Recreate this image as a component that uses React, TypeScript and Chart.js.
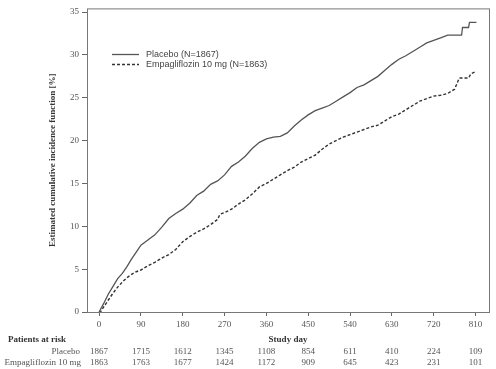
import React, { useEffect, useRef } from "react";
import { Chart, registerables } from "chart.js";

Chart.register(...registerables);

const placeboLabel = "Placebo (N=1867)";
const empaLabel = "Empagliflozin 10 mg (N=1863)";
const yTitle = "Estimated cumulative incidence function [%]";

const placeboDays = [0, 10, 20, 30, 40, 50, 60, 70, 80, 90, 105, 120, 135, 150, 165, 180, 195, 210, 225, 240, 255, 270, 285, 300, 315, 330, 345, 360, 375, 390, 405, 420, 435, 450, 465, 480, 495, 510, 525, 540, 555, 570, 585, 600, 615, 630, 645, 660, 675, 690, 705, 720, 735, 750, 780, 782, 795, 797, 812];
const placeboCIF = [0, 1.0, 2.1, 3.0, 3.9, 4.5, 5.3, 6.2, 7.0, 7.8, 8.4, 9.0, 9.9, 10.9, 11.5, 12.0, 12.7, 13.6, 14.1, 14.9, 15.3, 16.0, 17.0, 17.5, 18.2, 19.1, 19.8, 20.2, 20.4, 20.5, 20.9, 21.7, 22.4, 23.0, 23.5, 23.8, 24.1, 24.6, 25.1, 25.6, 26.2, 26.5, 27.0, 27.5, 28.2, 28.9, 29.5, 29.9, 30.4, 30.9, 31.4, 31.7, 32.0, 32.3, 32.3, 33.2, 33.2, 33.8, 33.8];

const empaDays = [0, 3, 10, 20, 30, 40, 50, 60, 70, 80, 90, 105, 120, 135, 150, 165, 180, 195, 210, 225, 240, 255, 260, 270, 285, 300, 315, 330, 345, 360, 375, 390, 405, 420, 435, 450, 465, 480, 495, 510, 525, 540, 555, 570, 585, 600, 615, 630, 645, 660, 675, 690, 705, 720, 735, 750, 765, 775, 795, 800, 812];
const empaCIF = [0, 0, 0.6, 1.4, 2.2, 2.9, 3.5, 4.0, 4.4, 4.7, 4.9, 5.4, 5.8, 6.3, 6.7, 7.3, 8.2, 8.8, 9.3, 9.7, 10.2, 10.8, 11.4, 11.6, 12.0, 12.6, 13.1, 13.8, 14.6, 15.0, 15.5, 16.0, 16.5, 16.9, 17.5, 17.9, 18.3, 19.0, 19.6, 20.0, 20.4, 20.7, 21.0, 21.3, 21.6, 21.8, 22.3, 22.8, 23.1, 23.6, 24.1, 24.6, 24.9, 25.2, 25.3, 25.5, 26.0, 27.3, 27.3, 27.8, 28.1];

const xTicks = [0, 90, 180, 270, 360, 450, 540, 630, 720, 810];
const yTicks = [0, 5, 10, 15, 20, 25, 30, 35];
const atRiskPlacebo = [1867, 1715, 1612, 1345, 1108, 854, 611, 410, 224, 109];
const atRiskEmpa = [1863, 1763, 1677, 1424, 1172, 909, 645, 423, 231, 101];

const SERIF = "'Liberation Serif', 'Times New Roman', serif";
const SANS = "'Liberation Sans', Arial, sans-serif";

const overlayPlugin = {
  id: "overlay",
  afterDraw(chart: any) {
    const ctx = chart.ctx as CanvasRenderingContext2D;
    const a = chart.chartArea;
    const xs = chart.scales.x;
    ctx.save();
    ctx.strokeStyle = "#777";
    ctx.lineWidth = 1;
    ctx.strokeRect(a.left + 0.5, a.top + 0.5, a.right - a.left, a.bottom - a.top);

    ctx.save();
    ctx.translate(53, (a.top + a.bottom) / 2);
    ctx.rotate(-Math.PI / 2);
    ctx.fillStyle = "#333";
    ctx.font = `bold 9px ${SERIF}`;
    ctx.textAlign = "center";
    ctx.textBaseline = "middle";
    ctx.fillText(yTitle, 0, 0);
    ctx.restore();

    const ds = chart.data.datasets;
    const legendRows = [54, 64];
    ds.forEach((d: any, i: number) => {
      const y = legendRows[i] + 0.5;
      ctx.strokeStyle = d.borderColor;
      ctx.lineWidth = d.borderWidth;
      ctx.setLineDash(d.borderDash || []);
      ctx.beginPath();
      ctx.moveTo(112, y);
      ctx.lineTo(139, y);
      ctx.stroke();
      ctx.setLineDash([]);
      ctx.fillStyle = "#444";
      ctx.font = `9px ${SANS}`;
      ctx.textBaseline = "middle";
      ctx.textAlign = "left";
      ctx.fillText(d.label, 146, y);
    });

    ctx.fillStyle = "#333";
    ctx.textBaseline = "middle";
    ctx.font = `bold 9px ${SERIF}`;
    ctx.textAlign = "left";
    ctx.fillText("Patients at risk", 8, 340);
    ctx.textAlign = "center";
    ctx.fillText("Study day", (a.left + a.right) / 2, 340);

    ctx.font = `9px ${SERIF}`;
    ctx.fillStyle = "#555";
    ctx.textAlign = "right";
    ctx.fillText("Placebo", 80, 352);
    ctx.fillText("Empagliflozin 10 mg", 81, 363);
    ctx.textAlign = "center";
    xTicks.forEach((t, i) => {
      const px = xs.getPixelForValue(t);
      ctx.fillText(String(atRiskPlacebo[i]), px, 352);
      ctx.fillText(String(atRiskEmpa[i]), px, 363);
    });
    ctx.restore();
  },
};

export default function App() {
  const ref = useRef<HTMLCanvasElement>(null);
  useEffect(() => {
    if (!ref.current) return;
    const chart = new Chart(ref.current, {
      type: "line",
      data: {
        datasets: [
          {
            label: placeboLabel,
            data: placeboDays.map((d, i) => ({ x: d, y: placeboCIF[i] })),
            borderColor: "#555",
            borderWidth: 1.3,
            pointRadius: 0,
            tension: 0,
            fill: false,
          },
          {
            label: empaLabel,
            data: empaDays.map((d, i) => ({ x: d, y: empaCIF[i] })),
            borderColor: "#333",
            borderWidth: 1.4,
            borderDash: [3, 2],
            pointRadius: 0,
            tension: 0,
            fill: false,
          },
        ],
      },
      options: {
        animation: false,
        responsive: false,
        maintainAspectRatio: false,
        devicePixelRatio: 1,
        layout: { padding: { left: 0, right: 7, top: 7, bottom: 0 } },
        plugins: { legend: { display: false }, tooltip: { enabled: false } },
        scales: {
          x: {
            type: "linear",
            min: -26,
            max: 839,
            afterBuildTicks: (s: any) => {
              s.ticks = xTicks.map((v) => ({ value: v }));
            },
            afterFit: (s: any) => {
              s.height = 57;
            },
            grid: { drawOnChartArea: false, drawTicks: true, tickLength: 4, color: "#666" },
            border: { display: false },
            ticks: {
              autoSkip: false,
              maxRotation: 0,
              padding: 3,
              color: "#555",
              font: { family: SERIF, size: 9 },
              callback: (v: any) => String(v),
            },
          },
          y: {
            type: "linear",
            min: 0,
            max: 35.43,
            afterBuildTicks: (s: any) => {
              s.ticks = yTicks.map((v) => ({ value: v }));
            },
            afterFit: (s: any) => {
              s.width = 87;
            },
            grid: { drawOnChartArea: false, drawTicks: true, tickLength: 5, color: "#666" },
            border: { display: false },
            ticks: {
              padding: 3,
              color: "#555",
              font: { family: SERIF, size: 9 },
              callback: (v: any) => String(v),
            },
          },
        },
      },
      plugins: [overlayPlugin],
    });
    return () => chart.destroy();
  }, []);
  return (
    <div style={{ position: "fixed", left: 0, top: 0, width: 496, height: 369, background: "#fff" }}>
      <canvas ref={ref} width={496} height={369} />
    </div>
  );
}
